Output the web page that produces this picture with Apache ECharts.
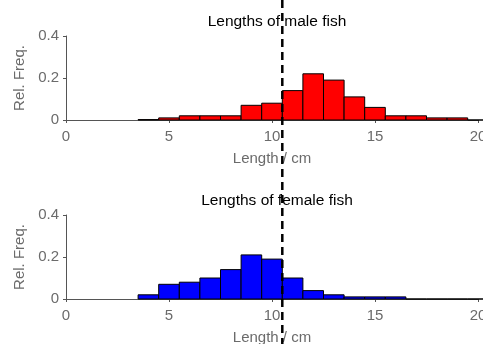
<!DOCTYPE html>
<html>
<head>
<meta charset="UTF-8">
<title>Fish lengths</title>
<style>
  html, body { margin: 0; padding: 0; background: #fff; }
  #main { width: 483px; height: 344px; }
</style>
<script src="https://cdn.jsdelivr.net/npm/echarts@6/dist/echarts.min.js"></script>
</head>
<body>
<div id="main"></div>
<script>
// bin edges (cm), width 1
var binStarts = [3.5, 4.5, 5.5, 6.5, 7.5, 8.5, 9.5, 10.5, 11.5, 12.5, 13.5, 14.5, 15.5, 16.5, 17.5, 18.5, 19.5];
var maleFreq   = [0.002, 0.01, 0.02, 0.02, 0.02, 0.07, 0.08, 0.14, 0.22, 0.19, 0.11, 0.06, 0.02, 0.02, 0.01, 0.01, 0];
var femaleFreq = [0.02, 0.07, 0.08, 0.10, 0.14, 0.21, 0.19, 0.10, 0.04, 0.02, 0.01, 0.01, 0.01, 0, 0, 0, 0];
var xTicks = [0, 5, 10, 15, 20];
var yTicks = [0, 0.2, 0.4];
var cutoff = 10.5;

var grey = '#6b6b6b';
var font = 'Liberation Sans';

function toBins(freq) {
    return binStarts.map(function (s, i) { return [s, s + 1, freq[i]]; });
}

function renderBin(params, api) {
    var p0 = api.coord([api.value(0), api.value(2)]);
    var p1 = api.coord([api.value(1), 0]);
    return {
        type: 'rect',
        shape: { x: p0[0], y: p0[1], width: p1[0] - p0[0], height: p1[1] - p0[1] },
        style: { fill: api.visual('color'), stroke: '#000', lineWidth: 1 }
    };
}

function xAxis(gi) {
    return {
        type: 'value', gridIndex: gi, min: 0, max: 20, interval: 5,
        name: 'Length / cm', nameLocation: 'middle', nameGap: 31,
        nameTextStyle: { color: grey, fontSize: 15, fontFamily: font },
        axisLine: { lineStyle: { color: '#555', width: 1 } },
        axisTick: { length: 3, lineStyle: { color: '#555' } },
        axisLabel: { color: grey, fontSize: 15, fontFamily: font, margin: 9,
            formatter: function (v) { return xTicks.indexOf(v) >= 0 ? String(v) : ''; } },
        splitLine: { show: false }
    };
}

function yAxis(gi) {
    return {
        type: 'value', gridIndex: gi, min: 0, max: 0.4, interval: 0.2,
        name: 'Rel. Freq.', nameLocation: 'middle', nameGap: 38,
        nameTextStyle: { color: grey, fontSize: 15, fontFamily: font },
        axisLine: { show: true, lineStyle: { color: '#555', width: 1 } },
        axisTick: { show: true, length: 3, lineStyle: { color: '#555' } },
        axisLabel: { color: grey, fontSize: 15, fontFamily: font, margin: 7,
            formatter: function (v) { return yTicks.indexOf(v) === 0 ? '0' : v.toFixed(1); } },
        splitLine: { show: false }
    };
}

var chart = echarts.init(document.getElementById('main'));
chart.setOption({
    animation: false,
    title: [
        { text: 'Lengths of male fish', left: 272, top: 9, textAlign: 'center',
          textStyle: { fontSize: 15.5, fontWeight: 'normal', color: '#000', fontFamily: font } },
        { text: 'Lengths of female fish', left: 272, top: 188, textAlign: 'center',
          textStyle: { fontSize: 15.5, fontWeight: 'normal', color: '#000', fontFamily: font } }
    ],
    grid: [
        { left: 66, right: 5, top: 36, height: 84, outerBoundsMode: 'none' },
        { left: 66, right: 5, top: 215, height: 84, outerBoundsMode: 'none' }
    ],
    xAxis: [xAxis(0), xAxis(1)],
    yAxis: [yAxis(0), yAxis(1)],
    series: [
        { type: 'custom', xAxisIndex: 0, yAxisIndex: 0, itemStyle: { color: '#ff0000' },
          renderItem: renderBin, data: toBins(maleFreq), encode: { x: [0, 1], y: 2 } },
        { type: 'custom', xAxisIndex: 1, yAxisIndex: 1, itemStyle: { color: '#0000ff' },
          renderItem: renderBin, data: toBins(femaleFreq), encode: { x: [0, 1], y: 2 } }
    ]
});

// dashed cutoff line across the whole figure
var cx = chart.convertToPixel({ xAxisIndex: 0 }, cutoff);
chart.setOption({
    graphic: [{
        type: 'line', z: 100,
        shape: { x1: cx, y1: 0, x2: cx, y2: 344 },
        style: { stroke: '#000', lineWidth: 2.5, lineDash: [8, 5] }
    }]
});
</script>
</body>
</html>
